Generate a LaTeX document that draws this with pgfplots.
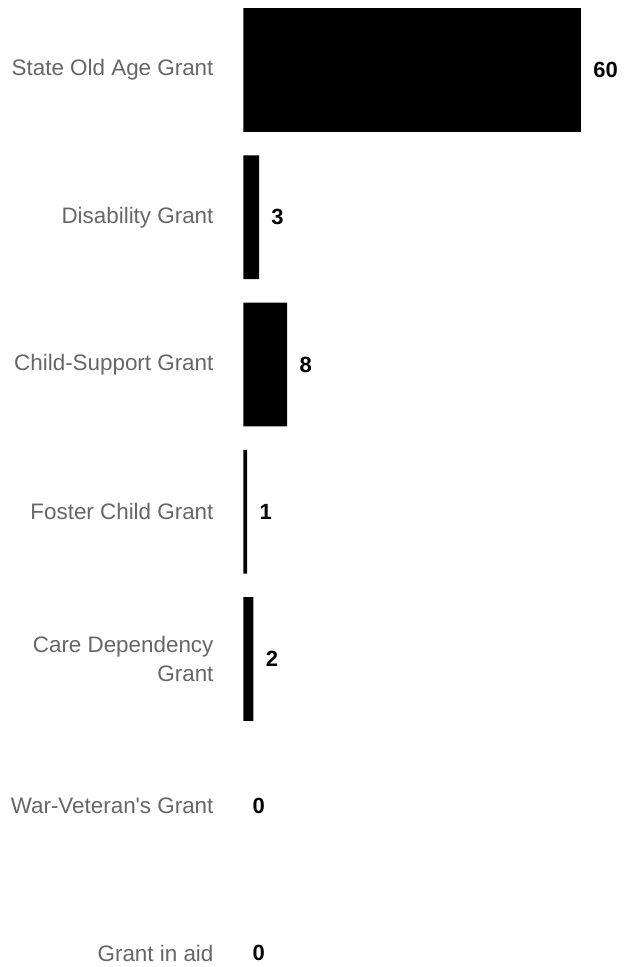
\documentclass[border=0pt]{standalone}
\usepackage{pgfplots}
\pgfplotsset{compat=1.18}
\usepackage{fontspec}
\setmainfont{Liberation Sans}
\definecolor{lblgray}{HTML}{666666}
\begin{document}
\begin{tikzpicture}
\begin{axis}[
  at={(121.65pt,-30pt)}, anchor=south west,
  scale only axis, width=168.85pt, height=515.3pt,
  xmin=0, xmax=60, ymin=-0.5, ymax=6.5, y dir=reverse,
  xbar, bar width=0.84, bar shift=0pt,
  axis lines=left, axis line style={draw=none}, tick style={draw=none},
  xtick=\empty,
  ytick={0,1,2,3,4,5,6},
  yticklabels={State Old Age Grant, Disability Grant, Child-Support Grant, Foster Child Grant, {Care Dependency\\Grant}, War-Veteran\textquotesingle s Grant, Grant in aid},
  yticklabel style={font=\fontsize{11.2}{14.5}\selectfont, text=lblgray, align=right, inner sep=0pt, anchor=east},
  yticklabel shift=12.6pt,
  clip=false,
  point meta=explicit symbolic,
  nodes near coords,
  every node near coord/.append style={anchor=west, inner sep=0pt, xshift=6pt, font=\fontsize{11}{13}\selectfont\bfseries, text=black},
]
\addplot[fill=black, draw=none] coordinates {
  (60,0) [60]
  (2.8,1) [3]
  (7.8,2) [8]
  (0.7,3) [1]
  (1.8,4) [2]
};
\addplot[fill=none, draw=none, every node near coord/.append style={xshift=-1.5pt}] coordinates {
  (0,5) [0]
  (0,6) [0]
};
\end{axis}
\pgfresetboundingbox
\useasboundingbox (0,0) rectangle (316pt,483.5pt);
\end{tikzpicture}
\end{document}
